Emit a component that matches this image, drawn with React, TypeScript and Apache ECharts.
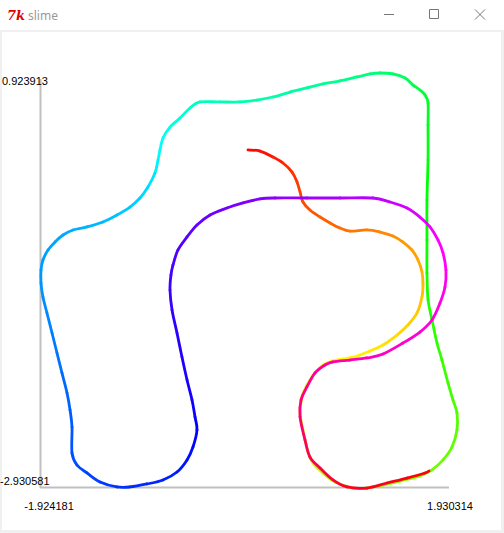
import React, { useEffect, useRef } from "react";
import * as echarts from "echarts";

const xBounds = [-1.924181, 1.930314];
const yBounds = [-2.930581, 0.923913];
const xTickLabels = ["-1.924181", "1.930314"];
const yTickLabels = ["0.923913", "-2.930581"];
const windowTitle = "slime";

const pathX = [
  -0.006, 0.105, 0.225, 0.318, 0.402, 0.448, 0.476, 0.503, 0.568, 0.661,
  0.754, 0.846, 0.939, 1.096, 1.217, 1.337, 1.43, 1.513, 1.569, 1.606,
  1.615, 1.606, 1.56, 1.476, 1.374, 1.245, 1.124, 1.004, 0.874, 0.772,
  0.689, 0.615, 0.54, 0.494, 0.476, 0.503, 0.55, 0.596, 0.689, 0.8,
  0.967, 1.096, 1.245, 1.402, 1.587, 1.699, 1.801, 1.884, 1.93, 1.93,
  1.893, 1.847, 1.791, 1.745, 1.699, 1.662, 1.652, 1.652, 1.652, 1.662,
  1.662, 1.662, 1.634, 1.587, 1.523, 1.449, 1.337, 1.217, 1.124, 1.004,
  0.846, 0.689, 0.54, 0.383, 0.225, 0.077, -0.08, -0.266, -0.451, -0.544,
  -0.636, -0.729, -0.794, -0.822, -0.84, -0.868, -0.933, -1.007, -1.1, -1.22,
  -1.35, -1.498, -1.628, -1.72, -1.794, -1.859, -1.906, -1.924, -1.924, -1.906,
  -1.869, -1.822, -1.776, -1.73, -1.683, -1.655, -1.637, -1.637, -1.591, -1.498,
  -1.377, -1.22, -1.1, -0.942, -0.794, -0.664, -0.571, -0.516, -0.479, -0.497,
  -0.525, -0.571, -0.618, -0.664, -0.71, -0.729, -0.72, -0.701, -0.655, -0.571,
  -0.479, -0.358, -0.201, -0.052, 0.105, 0.244, 0.54, 0.846, 1.152, 1.31,
  1.467, 1.587, 1.68, 1.754, 1.801, 1.828, 1.819, 1.773, 1.699, 1.587,
  1.43, 1.245, 1.096, 0.939, 0.781, 0.707, 0.615, 0.54, 0.485, 0.476,
  0.522, 0.568, 0.661, 0.781, 0.911, 1.096, 1.282, 1.467, 1.634, 1.671,
];

const pathY = [
  0.209, 0.199, 0.144, 0.088, 0.004, -0.088, -0.181, -0.274, -0.349, -0.414,
  -0.469, -0.516, -0.544, -0.534, -0.553, -0.59, -0.646, -0.72, -0.813, -0.924,
  -1.036, -1.157, -1.305, -1.417, -1.51, -1.602, -1.658, -1.705, -1.732, -1.751,
  -1.788, -1.862, -1.974, -2.085, -2.234, -2.392, -2.596, -2.698, -2.791, -2.875,
  -2.931, -2.931, -2.903, -2.866, -2.819, -2.763, -2.67, -2.55, -2.392, -2.234,
  -2.113, -1.955, -1.742, -1.584, -1.37, -1.184, -0.934, -0.627, -0.256, 0.116,
  0.441, 0.645, 0.72, 0.766, 0.812, 0.877, 0.915, 0.924, 0.915, 0.887,
  0.85, 0.822, 0.785, 0.747, 0.701, 0.673, 0.655, 0.655, 0.655, 0.599,
  0.506, 0.422, 0.32, 0.209, 0.116, -0.005, -0.135, -0.237, -0.321, -0.395,
  -0.46, -0.506, -0.534, -0.581, -0.646, -0.72, -0.813, -0.906, -1.027, -1.157,
  -1.305, -1.491, -1.677, -1.862, -2.048, -2.206, -2.364, -2.605, -2.717, -2.791,
  -2.875, -2.921, -2.921, -2.893, -2.856, -2.782, -2.67, -2.55, -2.392, -2.271,
  -2.113, -1.927, -1.714, -1.491, -1.277, -1.092, -0.952, -0.859, -0.72, -0.599,
  -0.488, -0.395, -0.33, -0.283, -0.246, -0.237, -0.237, -0.237, -0.237, -0.274,
  -0.33, -0.414, -0.506, -0.627, -0.748, -0.906, -1.064, -1.212, -1.37, -1.482,
  -1.584, -1.686, -1.723, -1.742, -1.76, -1.788, -1.862, -1.992, -2.113, -2.271,
  -2.485, -2.643, -2.745, -2.856, -2.921, -2.931, -2.884, -2.838, -2.791, -2.773,
];

const pathHue = [
  0, 2, 5, 8, 11, 13, 15, 17, 19, 21,
  23, 25, 27, 29, 31, 33, 35, 37, 39, 41,
  43, 45, 47, 49, 51, 53, 55, 57, 59, 61,
  63, 65, 67, 69, 71, 73, 75, 77, 79, 81,
  83, 85, 87, 89, 91, 93, 95, 97, 99, 101,
  103, 105, 107, 109, 111, 113, 116, 118, 120, 123,
  126, 129, 132, 135, 138, 141, 144, 147, 149, 151,
  153, 155, 157, 158, 159, 160, 161, 163, 165, 168,
  171, 174, 177, 180, 182, 185, 188, 190, 192, 194,
  196, 198, 199, 200, 201, 202, 203, 204, 205, 206,
  208, 210, 212, 214, 216, 218, 219, 221, 222, 224,
  226, 228, 229, 231, 232, 234, 236, 238, 240, 242,
  244, 246, 248, 250, 252, 254, 256, 257, 259, 261,
  263, 265, 267, 269, 271, 273, 276, 280, 284, 287,
  290, 293, 296, 298, 300, 302, 304, 306, 308, 310,
  312, 314, 316, 318, 320, 322, 324, 327, 330, 333,
  337, 341, 344, 347, 350, 353, 355, 357, 359, 360,
];

function hueColor(h: number): string {
  const hh = (((h % 360) + 360) % 360) / 60;
  const x = 1 - Math.abs((hh % 2) - 1);
  let r = 0, g = 0, b = 0;
  if (hh < 1) { r = 1; g = x; }
  else if (hh < 2) { r = x; g = 1; }
  else if (hh < 3) { g = 1; b = x; }
  else if (hh < 4) { g = x; b = 1; }
  else if (hh < 5) { r = x; b = 1; }
  else { r = 1; b = x; }
  const to = (v: number) => Math.round(v * 255).toString(16).padStart(2, "0");
  return "#" + to(r) + to(g) + to(b);
}

export default function App() {
  const ref = useRef<HTMLDivElement>(null);
  useEffect(() => {
    document.body.style.margin = "0";
    const chart = echarts.init(ref.current!, null, { renderer: "svg" });
    const n = pathX.length;
    const segData = pathX.slice(0, n - 1).map((x, i) => [x, pathY[i], i]);
    const labelFont = '11px "Liberation Sans", Arial, sans-serif';
    const frame = "#f0f0f0";
    const btn = "#777";
    chart.setOption({
      animation: false,
      backgroundColor: "#ffffff",
      grid: { left: 41, right: 47, top: 73, bottom: 45 },
      xAxis: { type: "value", min: xBounds[0], max: xBounds[1], show: false },
      yAxis: { type: "value", min: yBounds[0], max: yBounds[1], show: false },
      graphic: [
        { type: "rect", shape: { x: 0, y: 30, width: 504, height: 2 }, style: { fill: frame }, z: 0 },
        { type: "rect", shape: { x: 0, y: 30, width: 2, height: 503 }, style: { fill: frame }, z: 0 },
        { type: "rect", shape: { x: 501, y: 30, width: 3, height: 503 }, style: { fill: frame }, z: 0 },
        { type: "rect", shape: { x: 0, y: 530, width: 504, height: 3 }, style: { fill: frame }, z: 0 },
        { type: "text", x: 7, y: 15, style: { text: "7k", fill: "#e00000", font: 'italic bold 13px "DejaVu Serif", serif', verticalAlign: "middle" } },
        { type: "text", x: 28, y: 15, style: { text: windowTitle, fill: "#999999", font: '12px "Noto Sans", sans-serif', verticalAlign: "middle" } },
        { type: "line", shape: { x1: 384, y1: 14.5, x2: 394, y2: 14.5 }, style: { stroke: btn, lineWidth: 1 } },
        { type: "rect", shape: { x: 429.5, y: 9.5, width: 9, height: 9 }, style: { fill: "none", stroke: btn, lineWidth: 1 } },
        { type: "line", shape: { x1: 475, y1: 9.5, x2: 485, y2: 19.5 }, style: { stroke: btn, lineWidth: 1 } },
        { type: "line", shape: { x1: 485, y1: 9.5, x2: 475, y2: 19.5 }, style: { stroke: btn, lineWidth: 1 } },
        { type: "line", shape: { x1: 40.5, y1: 79, x2: 40.5, y2: 488 }, style: { stroke: "#c0c0c0", lineWidth: 2 }, z: 1 },
        { type: "line", shape: { x1: 40, y1: 487.5, x2: 449, y2: 487.5 }, style: { stroke: "#c0c0c0", lineWidth: 2 }, z: 1 },
        { type: "text", x: 2, y: 81, style: { text: yTickLabels[0], fill: "#000", font: labelFont, verticalAlign: "middle" }, z: 20 },
        { type: "text", x: 0, y: 481, style: { text: yTickLabels[1], fill: "#000", font: labelFont, verticalAlign: "middle" }, z: 20 },
        { type: "text", x: 49, y: 506, style: { text: xTickLabels[0], fill: "#000", font: labelFont, align: "center", verticalAlign: "middle" }, z: 20 },
        { type: "text", x: 450, y: 506, style: { text: xTickLabels[1], fill: "#000", font: labelFont, align: "center", verticalAlign: "middle" }, z: 20 },
      ],
      series: [
        {
          type: "custom",
          coordinateSystem: "cartesian2d",
          silent: true,
          clip: false,
          z: 10,
          data: segData,
          renderItem: (_params: any, api: any) => {
            const i = api.value(2) as number;
            const pt = (k: number) => {
              const kk = Math.max(0, Math.min(n - 1, k));
              return api.coord([pathX[kk], pathY[kk]]);
            };
            const p0 = pt(i - 1), p1 = pt(i), p2 = pt(i + 1), p3 = pt(i + 2);
            const t = 1 / 6;
            return {
              type: "bezierCurve",
              shape: {
                x1: p1[0], y1: p1[1], x2: p2[0], y2: p2[1],
                cpx1: p1[0] + (p2[0] - p0[0]) * t,
                cpy1: p1[1] + (p2[1] - p0[1]) * t,
                cpx2: p2[0] - (p3[0] - p1[0]) * t,
                cpy2: p2[1] - (p3[1] - p1[1]) * t,
              },
              style: {
                stroke: hueColor((pathHue[i] + pathHue[i + 1]) / 2),
                lineWidth: 2.8,
                fill: "none",
                lineCap: "round",
              },
            };
          },
        },
      ],
    });
    return () => chart.dispose();
  }, []);
  return (
    <div
      ref={ref}
      style={{ position: "fixed", left: 0, top: 0, width: 504, height: 533, background: "#fff" }}
    />
  );
}
